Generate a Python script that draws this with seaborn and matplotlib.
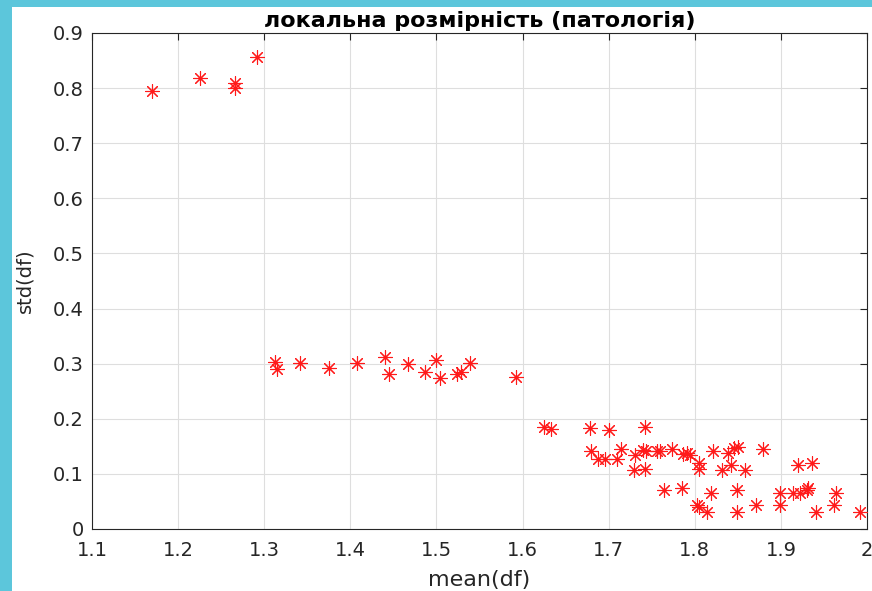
import matplotlib
matplotlib.use("Agg")
import matplotlib.pyplot as plt
import seaborn as sns
import pandas as pd
from matplotlib.patches import Rectangle

# ---- data ----
mean_df = [
    1.170, 1.2256, 1.2663, 1.2663, 1.292,
    1.3128, 1.3147, 1.341, 1.375, 1.408, 1.440, 1.4445, 1.4674, 1.4868,
    1.4992, 1.5047, 1.524, 1.5287, 1.5395, 1.5927,
    1.6248, 1.6326, 1.678, 1.7008, 1.7419,
    1.6798, 1.6876, 1.6953, 1.710, 1.7147, 1.731, 1.740, 1.743, 1.7558,
    1.7597, 1.773, 1.7868, 1.7915, 1.7945,
    1.7294, 1.7419, 1.7643, 1.7857, 1.8047, 1.8047, 1.8023, 1.8054, 1.814,
    1.8186, 1.8217, 1.8318, 1.838, 1.8419, 1.8457, 1.850, 1.8488, 1.8488,
    1.8589, 1.8713, 1.8798, 1.899, 1.899, 1.914, 1.9194, 1.9217, 1.930,
    1.9317, 1.9357, 1.9403, 1.962, 1.9643, 1.9922,
]
std_df = [
    0.795, 0.818, 0.810, 0.800, 0.857,
    0.3025, 0.290, 0.302, 0.293, 0.302, 0.3116, 0.282, 0.300, 0.284,
    0.3067, 0.274, 0.281, 0.284, 0.3007, 0.276,
    0.1857, 0.181, 0.183, 0.1797, 0.185,
    0.141, 0.1265, 0.1265, 0.1265, 0.145, 0.134, 0.143, 0.141, 0.141,
    0.141, 0.145, 0.136, 0.1385, 0.134,
    0.107, 0.108, 0.0708, 0.0738, 0.119, 0.108, 0.043, 0.0405, 0.031,
    0.066, 0.141, 0.107, 0.1385, 0.1155, 0.147, 0.149, 0.0708, 0.031,
    0.107, 0.043, 0.145, 0.043, 0.0646, 0.0646, 0.116, 0.066, 0.0708,
    0.0738, 0.1204, 0.031, 0.043, 0.0646, 0.031,
]
x_ticks = [1.1, 1.2, 1.3, 1.4, 1.5, 1.6, 1.7, 1.8, 1.9, 2.0]
x_tick_labels = ["1.1", "1.2", "1.3", "1.4", "1.5", "1.6", "1.7", "1.8", "1.9", "2"]
y_ticks = [0, 0.1, 0.2, 0.3, 0.4, 0.5, 0.6, 0.7, 0.8, 0.9]
y_tick_labels = ["0", "0.1", "0.2", "0.3", "0.4", "0.5", "0.6", "0.7", "0.8", "0.9"]
title = "локальна розмірність (патологія)"
x_label = "mean(df)"
y_label = "std(df)"

df = pd.DataFrame({"mean": mean_df, "std": std_df})

sns.set_theme(style="white")
plt.rcParams["font.family"] = ["DejaVu Sans"]

fig = plt.figure(figsize=(8.72, 5.91), dpi=100)
fig.patch.set_facecolor("#5cc6db")
fig.patches.append(Rectangle((12 / 872, 0), 1, 1 - 7 / 591, transform=fig.transFigure,
                             facecolor="white", edgecolor="none", zorder=-10))

ax = fig.add_axes([92 / 872, (591 - 529) / 591, (867 - 92) / 872, (529 - 33) / 591])
ax.set_facecolor("white")

sns.scatterplot(data=df, x="mean", y="std", ax=ax, marker=(8, 2, 0), color="#ff1a1a",
                s=100, linewidth=0.8, zorder=3)

ax.set_xlim(1.1, 2.0)
ax.set_ylim(0, 0.9)
ax.set_xticks(x_ticks)
ax.set_xticklabels(x_tick_labels)
ax.set_yticks(y_ticks)
ax.set_yticklabels(y_tick_labels)
ax.grid(True, color="#dedede", linewidth=0.8)
ax.set_axisbelow(True)
for sp in ax.spines.values():
    sp.set_visible(True)
    sp.set_color("#262626")
    sp.set_linewidth(0.8)
ax.tick_params(direction="in", length=5, width=0.8, colors="#262626",
               labelsize=14, top=True, right=True, labelcolor="#262626")
ax.tick_params(axis="x", pad=9)
ax.tick_params(axis="y", pad=6)
ax.set_title(title, fontsize=16, fontweight="bold", color="black", pad=4)
ax.set_xlabel(x_label, fontsize=16, color="#262626", labelpad=7)
ax.set_ylabel(y_label, fontsize=14, color="#262626", labelpad=13)

fig.savefig("out.png", dpi=100, facecolor=fig.get_facecolor())
